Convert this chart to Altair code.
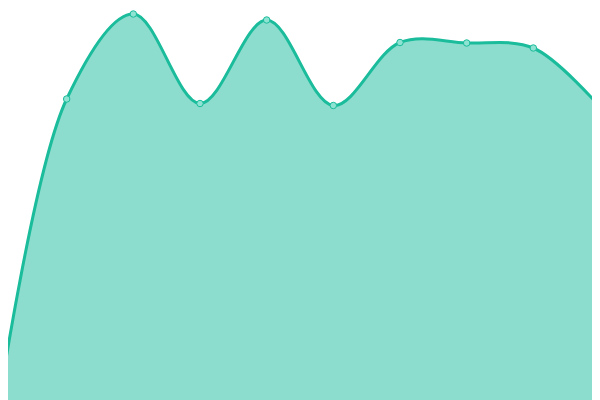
import altair as alt
import pandas as pd

idx = [0, 1, 2, 3, 4, 5, 6, 7, 8, 9]
values = [3, 301, 386, 296.5, 380, 294.5, 357.5, 357, 352, 293]

df = pd.DataFrame({"i": idx, "v": values})

x = alt.X("i:Q", axis=None, scale=alt.Scale(domain=[0, 9], nice=False, zero=False))
y = alt.Y("v:Q", axis=None, scale=alt.Scale(domain=[0, 400], nice=False))

base = alt.Chart(df)
area = base.mark_area(interpolate="catmull-rom", color="#1abc9c", opacity=0.5).encode(x=x, y=y)
line = base.mark_line(interpolate="catmull-rom", color="#1abc9c", strokeWidth=3).encode(x=x, y=y)
pts = base.mark_point(filled=True, size=42, fill="#8fe3d2", stroke="#1abc9c", strokeWidth=1, opacity=1).encode(x=x, y=y)

chart = (area + line + pts).properties(
    width=600, height=400,
    padding={"left": -8, "top": -8, "right": -8, "bottom": 0},
    autosize=alt.AutoSizeParams(type="none"),
).configure_view(stroke=None)

chart.save("out.html", embed_options={"renderer": "svg", "actions": False})
